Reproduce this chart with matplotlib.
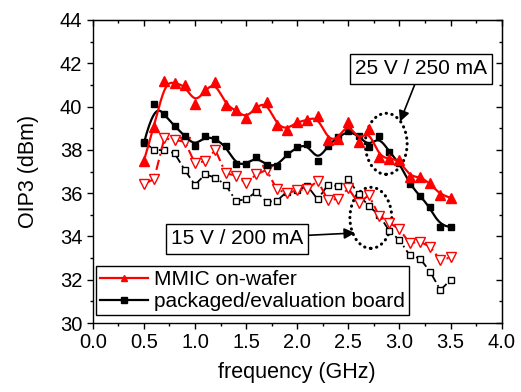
import numpy as np
import matplotlib.pyplot as plt
from matplotlib.patches import Ellipse
from matplotlib.ticker import MultipleLocator

plt.rcParams['font.family'] = ['Liberation Sans', 'DejaVu Sans']

freq = [0.5, 0.6, 0.7, 0.8, 0.9, 1.0, 1.1, 1.2, 1.3, 1.4, 1.5, 1.6, 1.7, 1.8, 1.9, 2.0,
        2.1, 2.2, 2.3, 2.4, 2.5, 2.6, 2.7, 2.8, 2.9, 3.0, 3.1, 3.2, 3.3, 3.4, 3.5]

# 25 V / 250 mA
mmic_25 = [37.5, 39.06, 41.2, 41.07, 41.0, 40.14, 40.76, 41.15, 40.06, 39.83, 39.45, 39.99,
           40.22, 39.14, 38.94, 39.3, 39.37, 39.56, 38.45, 38.49, 39.3, 38.38, 38.95, 37.68,
           37.6, 37.53, 36.76, 36.76, 36.45, 35.91, 35.79]
pkg_25 = [38.3, 40.12, 39.64, 39.1, 38.64, 38.18, 38.64, 38.5, 38.18, 37.33, 37.33, 37.68,
          37.28, 37.25, 37.79, 38.12, 38.27, 37.48, 38.2, 38.6, 38.87, 38.66, 38.15, 38.64,
          37.89, 37.4, 36.42, 35.87, 35.34, 34.45, 34.45]

# 15 V / 200 mA
mmic_15 = [36.42, 36.65, 38.53, 38.45, 38.38, 37.38, 37.48, 37.99, 36.92, 36.81, 36.45, 36.87,
           37.07, 36.18, 35.99, 36.14, 36.18, 36.57, 35.68, 35.73, 36.22, 35.53, 35.91, 34.96,
           34.63, 34.33, 33.68, 33.76, 33.52, 32.9, 33.03]
pkg_15 = [38.38, 37.99, 37.99, 37.84, 37.07, 36.38, 36.87, 36.71, 36.38, 35.65, 35.71, 36.07,
          35.6, 35.64, 36.07, 36.14, 36.33, 35.71, 36.38, 36.33, 36.64, 35.95, 35.4, 34.99,
          34.26, 33.83, 33.13, 32.98, 32.37, 31.52, 31.99]


def bspline(x, y, n=600, k=3):
    # clamped B-spline using the points as control points (like Origin's B-spline connect)
    pts = np.column_stack([x, y])
    m = len(pts)
    knots = np.concatenate([np.zeros(k), np.linspace(0, 1, m - k + 1), np.ones(k)])
    t = np.linspace(0, 1, n)
    t[-1] -= 1e-9
    N = np.zeros((n, len(knots) - 1))
    for i in range(len(knots) - 1):
        N[:, i] = (knots[i] <= t) & (t < knots[i + 1])
    for d in range(1, k + 1):
        newN = np.zeros((n, len(knots) - 1 - d))
        for i in range(len(knots) - 1 - d):
            left = knots[i + d] - knots[i]
            right = knots[i + d + 1] - knots[i + 1]
            a = (t - knots[i]) / left * N[:, i] if left > 0 else 0
            b = (knots[i + d + 1] - t) / right * N[:, i + 1] if right > 0 else 0
            newN[:, i] = a + b
        N = newN
    c = N @ pts
    return c[:, 0], c[:, 1]


fig = plt.figure(figsize=(5.21, 3.92), dpi=100)
ax = fig.add_axes([0.178, 0.176, 0.785, 0.773])

dd = (0, (5, 2, 1, 2))
ax.plot(freq, pkg_15, color='k', lw=1.3, ls=dd, marker='s', ms=5, mfc='white', mec='k', mew=1)
ax.plot(freq, mmic_15, color='red', lw=1.5, ls=dd, marker='v', ms=7, mfc='white', mec='red', mew=1)

bx, by = bspline(freq, pkg_25)
ax.plot(bx, by, color='k', lw=1.6)
ax.plot(freq, pkg_25, ls='none', marker='s', ms=5, color='k')
rx, ry = bspline(freq, mmic_25)
ax.plot(rx, ry, color='red', lw=1.6)
ax.plot(freq, mmic_25, ls='none', marker='^', ms=7, color='red')

dots = (0, (0.1, 1.8))
ax.add_patch(Ellipse((2.87, 38.28), 0.41, 2.82, fill=False, ec='k', lw=2.2, ls=dots, capstyle='round'))
ax.add_patch(Ellipse((2.72, 34.86), 0.41, 2.82, fill=False, ec='k', lw=2.2, ls=dots, capstyle='round'))

box = dict(boxstyle='square,pad=0.25', fc='white', ec='k', lw=1)
arrow = dict(arrowstyle='-|>', color='k', lw=1.2, mutation_scale=16, shrinkA=0, shrinkB=0)
ax.annotate('25 V / 250 mA', xy=(3.005, 39.3), xytext=(3.21, 41.74), ha='center', va='center',
            fontsize=15, bbox=box, arrowprops=arrow)
ax.annotate('15 V / 200 mA', xy=(2.565, 34.16), xytext=(1.41, 33.89), ha='center', va='center',
            fontsize=15, bbox=box, arrowprops=arrow)

# legend entries
ax.plot([], [], color='red', lw=1.6, marker='^', ms=5, label='MMIC on-wafer')
ax.plot([], [], color='k', lw=1.6, marker='s', ms=4, label='packaged/evaluation board')
handles, labels = ax.get_legend_handles_labels()
leg = ax.legend(handles[-2:], labels[-2:], loc='lower left', bbox_to_anchor=(0.008, 0.026),
                borderaxespad=0, fontsize=15, fancybox=False, edgecolor='k', framealpha=1,
                handlelength=2.3, handletextpad=0.3, labelspacing=0.15, borderpad=0.2)
leg.get_frame().set_linewidth(1)

ax.set_xlim(0, 4)
ax.set_ylim(30, 44)
ax.xaxis.set_major_locator(MultipleLocator(0.5))
ax.xaxis.set_minor_locator(MultipleLocator(0.25))
ax.yaxis.set_major_locator(MultipleLocator(2))
ax.yaxis.set_minor_locator(MultipleLocator(1))
ax.xaxis.set_major_formatter(plt.FormatStrFormatter('%.1f'))
ax.tick_params(which='major', direction='out', length=4, width=1, labelsize=14.5)
ax.tick_params(which='minor', direction='out', length=2.5, width=1)
for s in ax.spines.values():
    s.set_linewidth(1)

top = ax.secondary_xaxis('top')
right = ax.secondary_yaxis('right')
for sec, axis in ((top, top.xaxis), (right, right.yaxis)):
    axis.set_major_locator(MultipleLocator(0.5 if sec is top else 2))
    axis.set_minor_locator(MultipleLocator(0.25 if sec is top else 1))
    sec.tick_params(which='major', direction='in', length=4, width=1, labelleft=False,
                    labelright=False, labeltop=False, labelbottom=False)
    sec.tick_params(which='minor', direction='in', length=2.5, width=1)

ax.set_xlabel('frequency (GHz)', fontsize=15.5, labelpad=7)
ax.set_ylabel('OIP3 (dBm)', fontsize=15.5, labelpad=15)

fig.savefig('out.png', dpi=100)
